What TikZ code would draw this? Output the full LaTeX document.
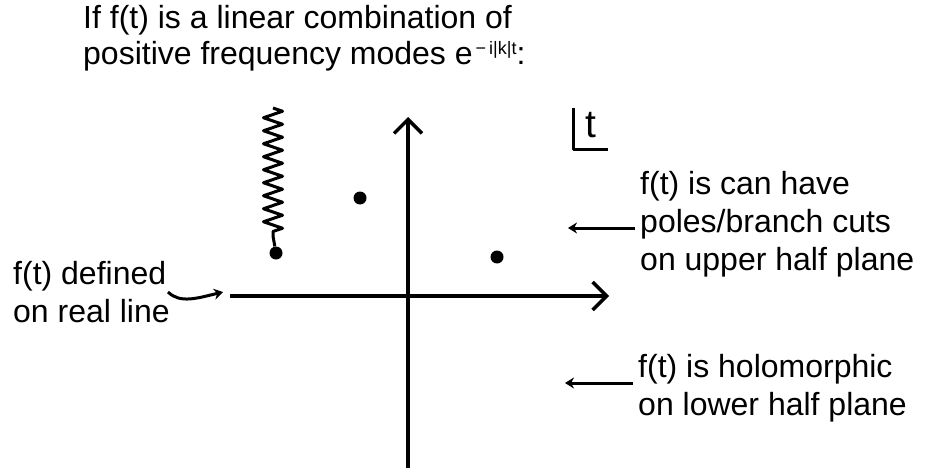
\documentclass[tikz,border=0pt]{standalone}
\usepackage{fontspec}
\setmainfont{Liberation Sans}
\usetikzlibrary{arrows.meta, decorations.pathmorphing}

\begin{document}
\begin{tikzpicture}[x=1pt, y=-1pt, line join=round,
    every node/.style={font=\fontsize{32}{38}\selectfont, inner sep=0pt},
    axis/.style={line width=3.5pt, -{Straight Barb[length=14pt, width=28pt, line width=3.5pt]}},
    pointer/.style={line width=3pt, -{Stealth[length=9pt, width=11pt]}},
    dot/.style={circle, fill, minimum size=13pt}]
  \useasboundingbox (0,0) rectangle (925,473);
  % heading (base = last line)
  \node[anchor=base west, align=left] (title) at (83,65)
    {If f(t) is a linear combination of\\[-2pt]
     positive frequency modes e\raisebox{10pt}{\fontsize{18}{18}\selectfont \,−\,i|k|t}:};
  % axes
  \coordinate (xl) at (230,296);
  \coordinate (xr) at (609,296);
  \coordinate (yb) at (408,468);
  \coordinate (yt) at (408,117);
  \draw[axis] (xl) -- (xr);
  \draw[axis] (yb) -- (yt);
  % singularities
  \node[dot] (p1) at (276,253) {};
  \node[dot] (p2) at (360,198) {};
  \node[dot] (p3) at (497,257) {};
  \coordinate (cut) at (273,108);
  \draw[line width=3pt, decorate, decoration={zigzag, segment length=13pt, amplitude=9.5pt}]
    (cut) -- (273,236);
  \draw[line width=3pt] (273,236) -- (p1);
  % variable label
  \node[font=\fontsize{39}{39}\selectfont] (tlab) at (591,125) {t};
  \draw[line width=3pt] (573,108) -- (573,150) -- (608,150);
  % side notes
  \node[anchor=base west, align=left] (real) at (13,322) {f(t) defined\\on real line};
  \node[anchor=base west, align=left] (upper) at (640,270)
    {f(t) is can have\\poles/branch cuts\\on upper half plane};
  \node[anchor=base west, align=left] (lower) at (638,415)
    {f(t) is holomorphic\\on lower half plane};
  \coordinate (uptip) at (568,228);
  \coordinate (lowtip) at (565,383);
  \draw[pointer] (upper.west |- uptip) ++(-5,0) -- (uptip);
  \draw[pointer] (lower.west |- lowtip) ++(-5,0) -- (lowtip);
  \draw[pointer] (168,292) .. controls (180,304) and (198,298) .. ([xshift=-7pt]xl |- 0,292);
\end{tikzpicture}
\end{document}
